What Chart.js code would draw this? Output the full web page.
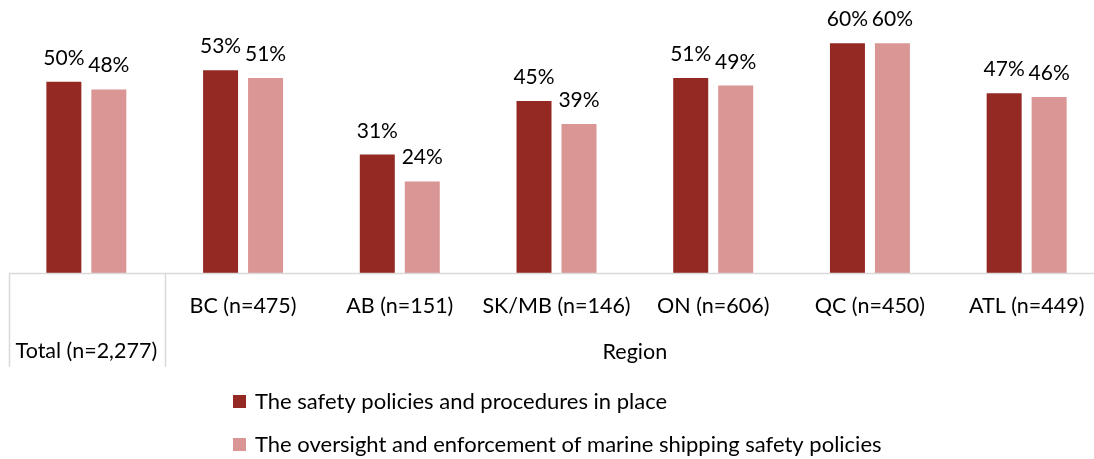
<!DOCTYPE html>
<html>
<head>
<meta charset="utf-8">
<script src="https://cdn.jsdelivr.net/npm/chart.js@4/dist/chart.umd.min.js"></script>
<style>
    html, body { margin: 0; padding: 0; background: #fff; overflow: hidden; }
    #wrap { position: relative; width: 1110px; height: 459px; }
</style>
</head>
<body>
<div id="wrap"><canvas id="myChart" width="1110" height="459"></canvas></div>
<script>
var categories = ['Total (n=2,277)', 'BC (n=475)', 'AB (n=151)', 'SK/MB (n=146)', 'ON (n=606)', 'QC (n=450)', 'ATL (n=449)'];
var groupLabel = 'Region';
var policies = [50, 53, 31, 45, 51, 60, 47];
var oversight = [48, 51, 24, 39, 49, 60, 46];
var seriesNames = ['The safety policies and procedures in place',
    'The oversight and enforcement of marine shipping safety policies'];
var darkRed = '#942822';
var pinkRed = '#d99694';
var fontName = 'Lato, "Open Sans", sans-serif';

var extras = {
    id: 'extras',
    afterDatasetsDraw: function (chart) {
        var ctx = chart.ctx;
        var xs = chart.scales.x;
        var base = chart.scales.y.getPixelForValue(0);
        ctx.save();

        // value labels over bars
        ctx.fillStyle = '#000';
        ctx.font = '21px ' + fontName;
        ctx.textAlign = 'center';
        ctx.textBaseline = 'alphabetic';
        chart.data.datasets.forEach(function (ds, i) {
            chart.getDatasetMeta(i).data.forEach(function (bar, j) {
                ctx.fillText(ds.data[j] + '%', bar.x, bar.y - 17);
            });
        });

        // axis line and separators
        ctx.strokeStyle = '#d9d9d9';
        ctx.lineWidth = 1.5;
        ctx.beginPath();
        ctx.moveTo(9, base);
        ctx.lineTo(1094, base);
        ctx.moveTo(9.5, base);
        ctx.lineTo(9.5, 367);
        ctx.moveTo(165.5, base);
        ctx.lineTo(165.5, 367);
        ctx.stroke();

        // category labels
        ctx.font = '21.5px ' + fontName;
        ctx.textBaseline = 'middle';
        categories.forEach(function (c, j) {
            var x = xs.getPixelForValue(j);
            if (j === 0) {
                ctx.fillText(c, x, 351);
            } else {
                ctx.fillText(c, x, 306);
            }
        });
        var left = xs.getPixelForValue(1) - (xs.getPixelForValue(2) - xs.getPixelForValue(1)) / 2;
        ctx.fillText(groupLabel, (left + chart.chartArea.right) / 2, 352);

        // legend
        var colors = [darkRed, pinkRed];
        ctx.textAlign = 'left';
        ctx.font = '22px ' + fontName;
        seriesNames.forEach(function (name, i) {
            var y = 402 + i * 43;
            ctx.fillStyle = colors[i];
            ctx.fillRect(233, y - 7, 13, 13);
            ctx.fillStyle = '#000';
            ctx.fillText(name, 255, y);
        });
        ctx.restore();
    }
};

var myChart = new Chart(document.getElementById('myChart'), {
    type: 'bar',
    data: {
        labels: categories,
        datasets: [{
            label: seriesNames[0],
            data: policies,
            backgroundColor: darkRed,
            barPercentage: 0.778,
            categoryPercentage: 0.574
        }, {
            label: seriesNames[1],
            data: oversight,
            backgroundColor: pinkRed,
            barPercentage: 0.778,
            categoryPercentage: 0.574
        }]
    },
    options: {
        responsive: false,
        animation: false,
        layout: { padding: { left: 8, right: 5, top: 5, bottom: 185.5 } },
        plugins: { legend: { display: false }, tooltip: { enabled: false } },
        scales: {
            x: { display: false },
            y: { display: false, min: 0, max: 70 }
        }
    },
    plugins: [extras]
});
</script>
</body>
</html>
